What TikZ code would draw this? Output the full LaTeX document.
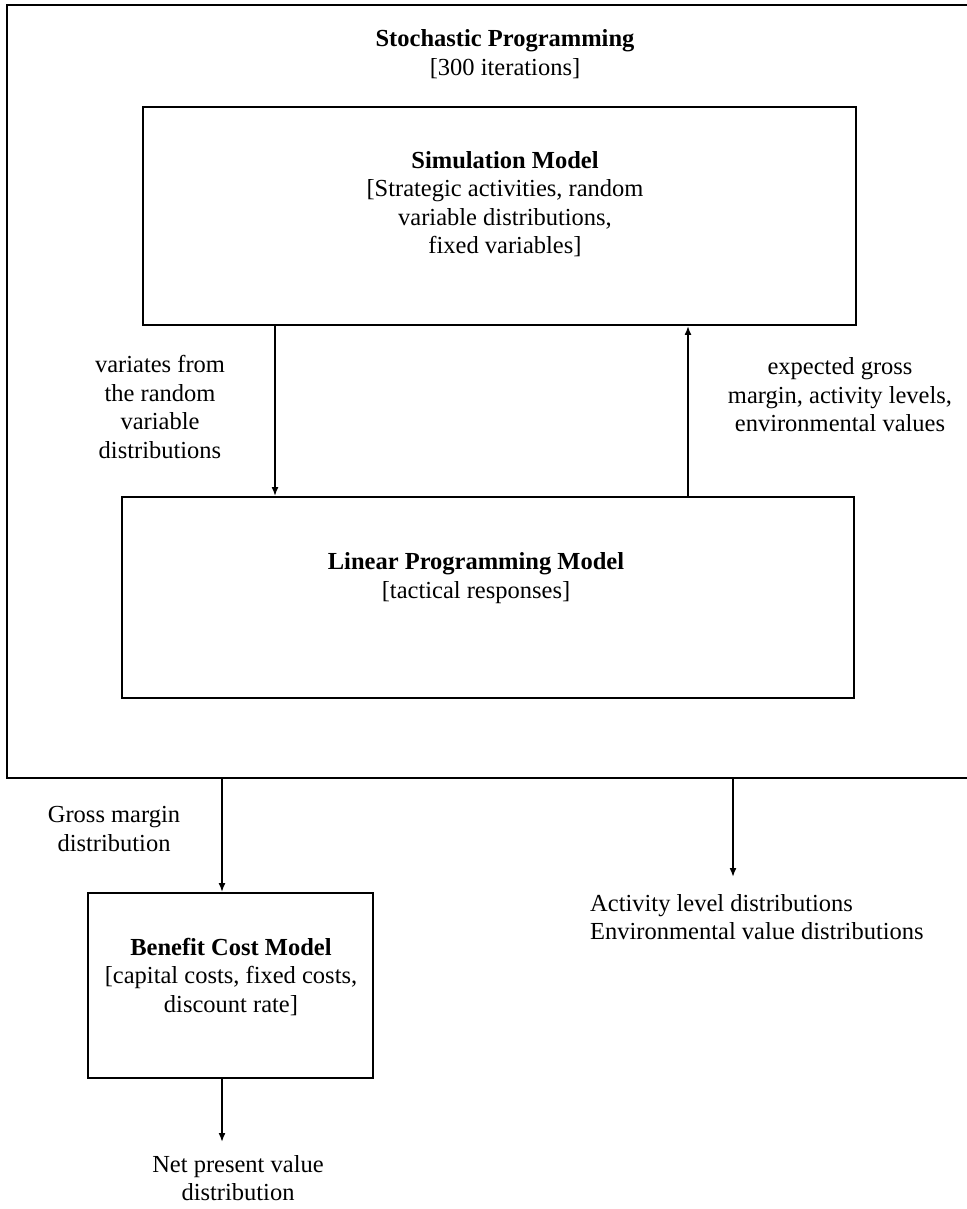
\documentclass[tikz,border=0pt]{standalone}
\usepackage{fontspec}
\setmainfont{Liberation Serif}
\usetikzlibrary{arrows.meta}
\begin{document}
\begin{tikzpicture}[x=1pt,y=1pt,
  box/.style={draw=black, line width=1.9pt, rectangle, inner sep=0pt},
  txt/.style={align=center, inner sep=0pt, font=\fontsize{24.5}{28.5}\selectfont},
  arr/.style={draw=black, line width=1.7pt, -{Latex[length=9pt,width=7pt]}}]
\useasboundingbox (0,0) rectangle (966,-1209);
% boxes
\node[box, minimum width=980pt, minimum height=773pt] (outer) at (497,-391.5) {};
\node[box, minimum width=713pt, minimum height=218pt] (sim) at (499.5,-216) {};
\node[box, minimum width=732pt, minimum height=201pt] (lp) at (488,-597.5) {};
\node[box, minimum width=285pt, minimum height=185pt] (bc) at (230.5,-985.5) {};
% texts
\node[txt] (title) at (505,-54) {\textbf{Stochastic Programming}\\{}[300 iterations]};
\node[txt] (simtext) at (505,-204) {\textbf{Simulation Model}\\{}[Strategic activities, random\\variable distributions,\\fixed variables]};
\node[txt] (lptext) at (476,-578) {\textbf{Linear Programming Model}\\{}[tactical responses]};
\node[txt] (bctext) at (231,-977) {\textbf{Benefit Cost Model}\\{}[capital costs, fixed costs,\\discount rate]};
\node[txt] (lblvar) at (160,-407) {variates from\\the random\\variable\\distributions};
\node[txt] (lblexp) at (840,-395) {expected gross\\margin, activity levels,\\environmental values};
\node[txt] (lblgm) at (114,-829) {Gross margin\\distribution};
\node[txt, align=left, anchor=west] (lblact) at (590,-917) {Activity level distributions\\Environmental value distributions};
\node[txt] (lblnpv) at (238,-1178) {Net present value\\distribution};
% connector helpers
\coordinate (dv) at (275,0);
\coordinate (uv) at (688,0);
\coordinate (gm) at (222,0);
\coordinate (act) at (733,0);
\coordinate (actend) at (733,-877);
\coordinate (npvend) at (222,-1142);
% connectors
\draw[arr] (sim.south -| dv) -- (lp.north -| dv);
\draw[arr] (lp.north -| uv) -- (sim.south -| uv);
\draw[arr] (outer.south -| gm) -- (bc.north -| gm);
\draw[arr] (outer.south -| act) -- (actend);
\draw[arr] (bc.south -| npvend) -- (npvend);
\end{tikzpicture}
\end{document}
